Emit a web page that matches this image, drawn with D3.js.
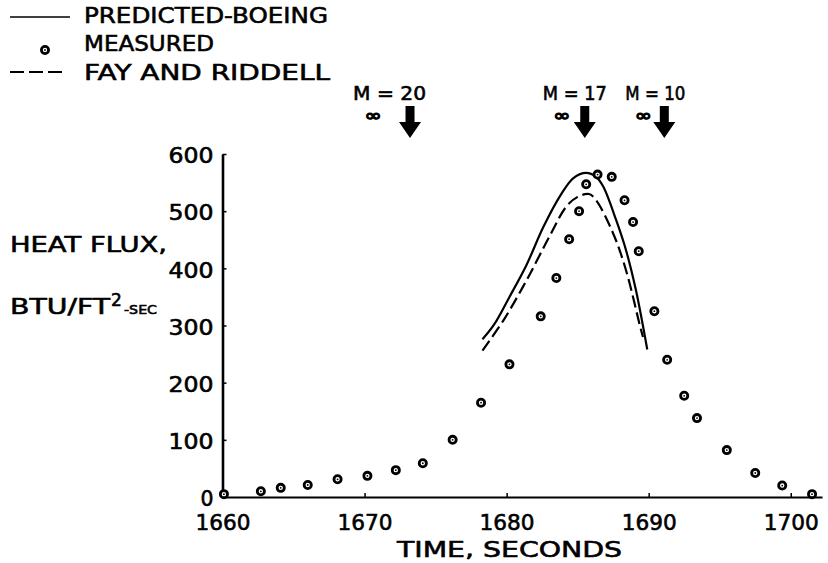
<!DOCTYPE html>
<html>
<head>
<meta charset="utf-8">
<script src="https://cdn.jsdelivr.net/npm/d3@7"></script>
<style>
  body { margin: 0; background: #fff; }
  text { font-family: "DejaVu Sans", sans-serif; fill: #000; stroke: #000; stroke-width: 0.6px; }
</style>
</head>
<body>
<div id="chart"></div>
<script>
// measured points (time s, heat flux BTU/ft2-sec)
const measuredTime = [1660.1, 1662.7, 1664.1, 1666.0, 1668.1, 1670.2, 1672.2, 1674.1, 1676.2, 1678.2, 1680.2,
  1682.4, 1683.5, 1684.4, 1685.1, 1685.6, 1686.4, 1687.4, 1688.3, 1688.9, 1689.3, 1690.4,
  1691.3, 1692.5, 1693.4, 1695.5, 1697.5, 1699.4, 1701.5];
const measuredFlux = [5, 10, 16, 21, 31, 37, 47, 59, 100, 165, 232,
  316, 383, 451, 500, 547, 564, 560, 519, 481, 430, 325,
  240, 177, 138, 82, 42, 20, 5];

// predicted - Boeing (solid)
const boeingTime = [1678.3, 1679.1, 1680.2, 1681.4, 1682.6, 1683.8, 1684.7, 1685.6, 1686.3, 1686.8, 1687.7, 1688.4, 1689.1, 1689.9];
const boeingFlux = [276, 301, 350, 406, 473, 528, 558, 567, 560, 543, 485, 432, 362, 258];

// Fay and Riddell (dashed)
const fayTime = [1678.3, 1679.8, 1681.4, 1683.0, 1684.2, 1685.0, 1685.8, 1686.3, 1687.5, 1688.4, 1689.4, 1689.6];
const fayFlux = [256, 310, 379, 455, 508, 525, 530, 519, 461, 397, 298, 280];

// free-stream Mach number markers
const machLabels = ["M = 20", "M = 17", "M = 10"];
const machTime = [1673.2, 1685.5, 1691.1];

const xTicks = [1660, 1670, 1680, 1690, 1700];
const yTicks = [0, 100, 200, 300, 400, 500, 600];

const W = 828, H = 563;
const svg = d3.select("#chart").append("svg")
  .attr("width", W)
  .attr("height", H);

const x = d3.scaleLinear().domain([1660, 1702.2]).range([222.5, 822]);
const y = d3.scaleLinear().domain([0, 600]).range([497, 154]);

// x axis
const gx = svg.append("g")
  .attr("transform", `translate(0,${y(0)})`)
  .call(d3.axisBottom(x).tickValues(xTicks).tickSizeInner(-4).tickSizeOuter(0).tickFormat(d3.format("d")));
gx.select(".domain").attr("stroke-width", 2.2);
gx.selectAll(".tick line").attr("stroke-width", 1.5);
gx.selectAll(".tick text")
  .attr("y", 33).attr("dy", null)
  .style("font-size", "22px")
  .attr("textLength", 55).attr("lengthAdjust", "spacingAndGlyphs");

// y axis
const gy = svg.append("g")
  .attr("transform", `translate(${x(1660)},0)`)
  .call(d3.axisLeft(y).tickValues(yTicks).tickSizeInner(-4).tickSizeOuter(0).tickPadding(9));
gy.select(".domain").attr("stroke-width", 2.6);
gy.selectAll(".tick line").attr("stroke-width", 1.5);
gy.selectAll(".tick text")
  .attr("dy", "0.42em")
  .style("font-size", "21px")
  .each(function (d) {
    const s = String(d);
    d3.select(this).attr("textLength", s.length === 1 ? 13 : 45).attr("lengthAdjust", "spacingAndGlyphs");
  });

// axis titles
svg.append("text").attr("x", 397).attr("y", 557)
  .style("font-size", "22px")
  .attr("textLength", 225).attr("lengthAdjust", "spacingAndGlyphs")
  .text("TIME, SECONDS");

svg.append("text").attr("x", 10).attr("y", 252)
  .style("font-size", "21px")
  .attr("textLength", 157).attr("lengthAdjust", "spacingAndGlyphs")
  .text("HEAT FLUX,");
const unit = svg.append("text").attr("x", 10).attr("y", 314).style("font-size", "21px");
unit.append("tspan").attr("textLength", 100).attr("lengthAdjust", "spacingAndGlyphs").text("BTU/FT");
unit.append("tspan").attr("x", 111).attr("dy", -8).style("font-size", "17px").text("2");
unit.append("tspan").attr("x", 124).attr("dy", 8).style("font-size", "13px")
  .attr("textLength", 33).attr("lengthAdjust", "spacingAndGlyphs").text("-SEC");

// curves
const boeing = boeingTime.map((t, i) => [t, boeingFlux[i]]);
const fay = fayTime.map((t, i) => [t, fayFlux[i]]);
const line = d3.line().x(d => x(d[0])).y(d => y(d[1])).curve(d3.curveCatmullRom);

svg.append("path").datum(boeing)
  .attr("d", line).attr("fill", "none").attr("stroke", "#000").attr("stroke-width", 2.2);
svg.append("path").datum(fay)
  .attr("d", line).attr("fill", "none").attr("stroke", "#000").attr("stroke-width", 2.2)
  .attr("stroke-dasharray", "12,5");

// measured markers
function marker(g, cx, cy) {
  g.append("circle").attr("cx", cx).attr("cy", cy).attr("r", 3.6)
    .attr("fill", "#fff").attr("stroke", "#000").attr("stroke-width", 2.8);
  g.append("circle").attr("cx", cx).attr("cy", cy).attr("r", 0.9).attr("fill", "#000");
}
const pts = svg.append("g");
measuredTime.forEach((t, i) => marker(pts, x(t), y(measuredFlux[i])));

// Mach arrows with M-infinity labels
const machTextDx = [-57, -42, -39];
const machTextLen = [73, 64, 60];
const machInfDx = [-37, -23, -21];
machTime.forEach((t, i) => {
  const cx = x(t);
  svg.append("path")
    .attr("d", `M${cx - 4.5},106 H${cx + 4.5} V122 H${cx + 11} L${cx},138 L${cx - 11},122 H${cx - 4.5} Z`)
    .attr("fill", "#000");
  svg.append("text").attr("x", cx + machTextDx[i]).attr("y", 100)
    .style("font-size", "19px")
    .attr("textLength", machTextLen[i]).attr("lengthAdjust", "spacingAndGlyphs")
    .text(machLabels[i]);
  svg.append("text").attr("x", cx + machInfDx[i] - 8.5).attr("y", 121)
    .style("font-size", "16px").style("stroke-width", "1.2px")
    .attr("textLength", 17).attr("lengthAdjust", "spacingAndGlyphs")
    .text("\u221E");
});

// legend
const lg = svg.append("g");
lg.append("line").attr("x1", 10).attr("x2", 70).attr("y1", 17).attr("y2", 17)
  .attr("stroke", "#000").attr("stroke-width", 1.6);
lg.append("text").attr("x", 84).attr("y", 23)
  .style("font-size", "22px")
  .attr("textLength", 244).attr("lengthAdjust", "spacingAndGlyphs")
  .text("PREDICTED-BOEING");
marker(lg, 45, 50);
lg.append("text").attr("x", 84).attr("y", 51)
  .style("font-size", "22px")
  .attr("textLength", 130).attr("lengthAdjust", "spacingAndGlyphs")
  .text("MEASURED");
lg.append("line").attr("x1", 10).attr("x2", 66).attr("y1", 72).attr("y2", 72)
  .attr("stroke", "#000").attr("stroke-width", 2).attr("stroke-dasharray", "14,5");
lg.append("text").attr("x", 84).attr("y", 80)
  .style("font-size", "22px")
  .attr("textLength", 246).attr("lengthAdjust", "spacingAndGlyphs")
  .text("FAY AND RIDDELL");
</script>
</body>
</html>
